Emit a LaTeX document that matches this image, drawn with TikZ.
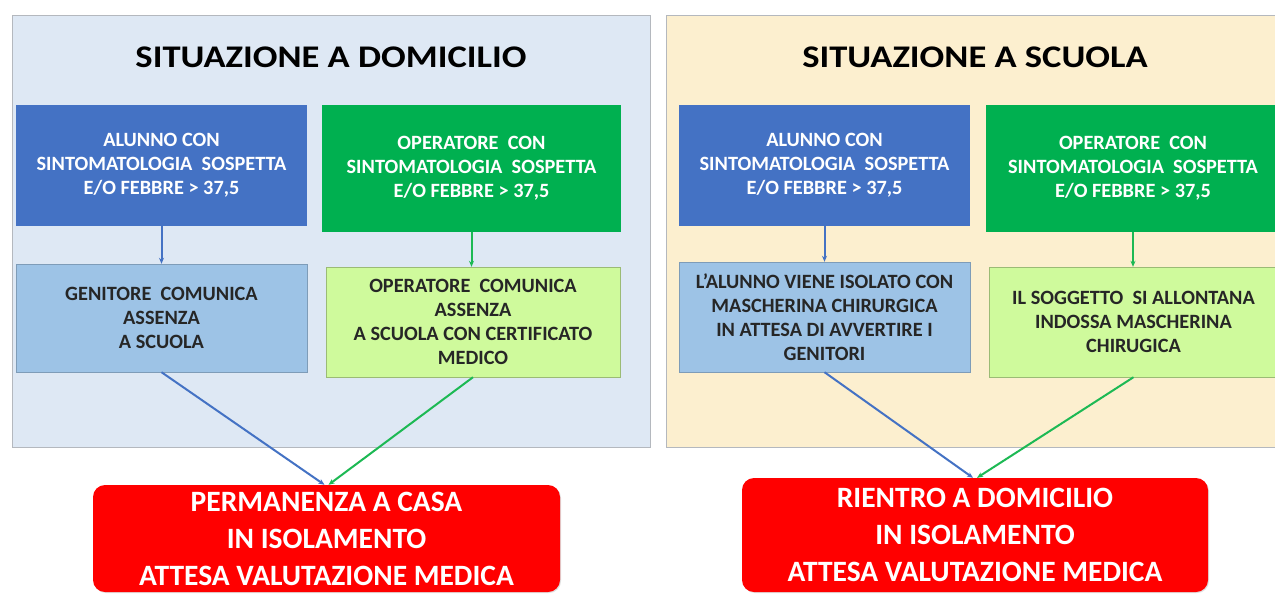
\documentclass[tikz,border=0pt]{standalone}
\usepackage{fontspec}
\setmainfont{Carlito}
\newfontfamily\titlefont{Carlito}[FakeStretch=1.16]
\usetikzlibrary{arrows.meta,shadows}
\definecolor{panelA}{HTML}{DEE8F4}
\definecolor{panelB}{HTML}{FCEFCF}
\definecolor{panelBorder}{HTML}{B4B8BE}
\definecolor{darkblue}{HTML}{4472C4}
\definecolor{darkgreen}{HTML}{00B050}
\definecolor{lightblue}{HTML}{9DC3E6}
\definecolor{lightgreen}{HTML}{CFFA9C}
\definecolor{lineblue}{HTML}{4472C4}
\definecolor{linegreen}{HTML}{1DB954}
\definecolor{redbox}{HTML}{FF0000}
\definecolor{boxtext}{HTML}{262626}
\tikzset{
  panel/.style={draw=panelBorder, line width=1pt},
  box/.style={draw=none, inner sep=2pt, align=center, font=\fontsize{20.3}{24}\selectfont\bfseries},
  topblue/.style={box, fill=darkblue, text=white},
  topgreen/.style={box, fill=darkgreen, text=white},
  lowblue/.style={box, fill=lightblue, draw=lightblue!80!black, text=boxtext},
  lowgreen/.style={box, fill=lightgreen, draw=lightgreen!75!black, text=boxtext},
  result/.style={rounded corners=12pt, fill=redbox, text=white, align=center,
     font=\fontsize{29.5}{37}\selectfont\bfseries, drop shadow={opacity=0.25, shadow xshift=1pt, shadow yshift=-1pt}},
  title/.style={font=\titlefont\fontsize{31.5}{36}\selectfont\bfseries, text=black},
  conn/.style={line width=2pt, -{Stealth[length=6pt,width=5pt]}},
}
\begin{document}
\begin{tikzpicture}[x=1pt,y=-1pt]
\useasboundingbox (0,0) rectangle (1275,595);
\begin{scope}
\clip (0,0) rectangle (1275,595);
\fill[white] (0,0) rectangle (1275,595);
% panels
\draw[panel, fill=panelA] (12,15) rectangle (650,447);
\draw[panel, fill=panelB] (666,15) rectangle (1290,447);
\node[title] (t1) at (331,57) {SITUAZIONE A DOMICILIO};
\node[title] (t2) at (975,57) {SITUAZIONE A SCUOLA};

% left column
\node[topblue, minimum width=291pt, minimum height=121pt] (lb) at (161.5,165.5)
  {ALUNNO CON\\SINTOMATOLOGIA\ \ SOSPETTA\\E/O FEBBRE > 37,5};
\node[topgreen, minimum width=299pt, minimum height=127pt] (lg) at (471.5,168.5)
  {OPERATORE\ \ CON\\SINTOMATOLOGIA\ \ SOSPETTA\\E/O FEBBRE > 37,5};
\node[lowblue, minimum width=291pt, minimum height=108pt] (llb) at (161.5,318)
  {GENITORE\ \ COMUNICA\\ASSENZA\\A SCUOLA};
\node[lowgreen, minimum width=294pt, minimum height=110pt] (llg) at (473,322)
  {OPERATORE\ \ COMUNICA\\ASSENZA\\A SCUOLA CON CERTIFICATO\\MEDICO};
\node[result, minimum width=467pt, minimum height=107pt] (r1) at (326.5,538.5)
  {PERMANENZA A CASA\\IN ISOLAMENTO\\ATTESA VALUTAZIONE MEDICA};

% right column
\node[topblue, minimum width=291pt, minimum height=121pt] (rb) at (824.5,165.5)
  {ALUNNO CON\\SINTOMATOLOGIA\ \ SOSPETTA\\E/O FEBBRE > 37,5};
\node[topgreen, minimum width=294pt, minimum height=127pt] (rg) at (1133,168.5)
  {OPERATORE\ \ CON\\SINTOMATOLOGIA\ \ SOSPETTA\\E/O FEBBRE > 37,5};
\node[lowblue, minimum width=291pt, minimum height=110pt] (rlb) at (824.5,317)
  {L’ALUNNO VIENE ISOLATO CON\\MASCHERINA CHIRURGICA\\IN ATTESA DI AVVERTIRE I\\GENITORI};
\node[lowgreen, minimum width=289pt, minimum height=110pt] (rlg) at (1133.5,322)
  {IL SOGGETTO\ \ SI ALLONTANA\\INDOSSA MASCHERINA\\CHIRUGICA};
\node[result, minimum width=466pt, minimum height=114pt] (r2) at (975,535)
  {RIENTRO A DOMICILIO\\IN ISOLAMENTO\\ATTESA VALUTAZIONE MEDICA};

% connectors
\draw[conn, lineblue] (lb.south) -- (llb.north);
\draw[conn, linegreen] (lg.south) -- (lg.south |- llg.north);
\draw[conn, lineblue] (llb.south) -- ([xshift=-2pt]r1.north);
\draw[conn, linegreen] (llg.south) -- ([xshift=2pt]r1.north);
\draw[conn, lineblue] (rb.south) -- (rlb.north);
\draw[conn, linegreen] (rg.south) -- (rg.south |- rlg.north);
\draw[conn, lineblue] (rlb.south) -- ([xshift=-2pt]r2.north);
\draw[conn, linegreen] (rlg.south) -- ([xshift=2pt]r2.north);
\end{scope}
\end{tikzpicture}
\end{document}
